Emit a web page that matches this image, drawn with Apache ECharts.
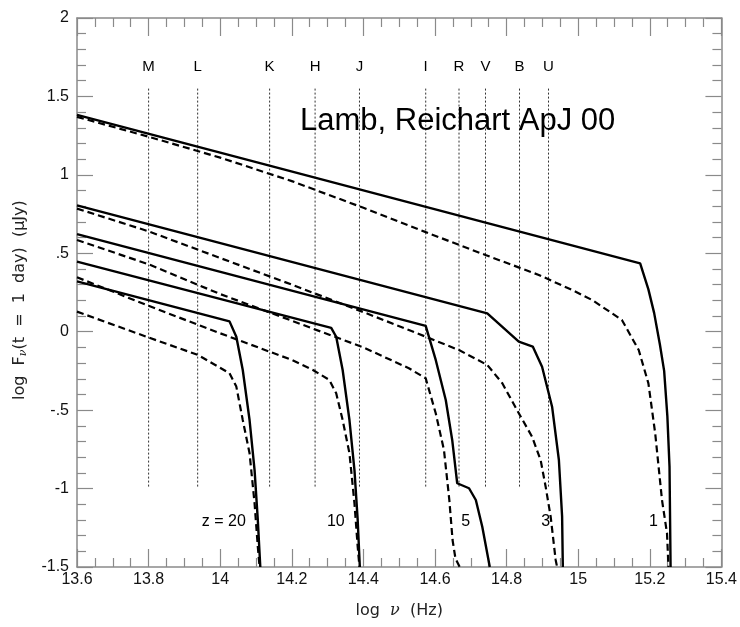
<!DOCTYPE html>
<html>
<head>
<meta charset="utf-8">
<script src="https://cdn.jsdelivr.net/npm/echarts@6/dist/echarts.min.js"></script>
<style>
  html, body { margin: 0; padding: 0; background: #fff; }
  #chart { width: 740px; height: 627px; }
</style>
</head>
<body>
<div id="chart"></div>
<script>
// spectra at t = 1 day, [log nu, log F]
const solidZ1 = [[13.6, 1.382], [15.173, 0.436], [15.196, 0.27], [15.212, 0.12], [15.228, -0.08], [15.24, -0.25], [15.249, -0.54], [15.255, -0.86], [15.258, -1.5]]
const dashedZ1 = [[13.6, 1.37], [13.8, 1.243], [14.0, 1.11], [14.2, 0.96], [14.4, 0.79], [14.574, 0.635], [14.741, 0.489], [14.89, 0.362], [14.983, 0.266], [15.039, 0.202], [15.122, 0.075], [15.169, -0.117], [15.196, -0.329], [15.215, -0.648], [15.234, -1.073], [15.248, -1.285], [15.252, -1.5]]
const solidZ3 = [[13.6, 0.805], [14.746, 0.117], [14.834, -0.063], [14.873, -0.095], [14.899, -0.223], [14.927, -0.478], [14.946, -0.818], [14.955, -1.179], [14.957, -1.5]]
const dashedZ3 = [[13.6, 0.785], [13.8, 0.64], [14.0, 0.47], [14.2, 0.3], [14.4, 0.125], [14.527, 0.011], [14.667, -0.117], [14.746, -0.212], [14.788, -0.329], [14.834, -0.52], [14.871, -0.669], [14.895, -0.818], [14.909, -0.988], [14.923, -1.179], [14.937, -1.455], [14.941, -1.5]]
const solidZ5 = [[13.6, 0.622], [14.574, 0.037], [14.602, -0.18], [14.63, -0.435], [14.648, -0.69], [14.662, -0.966], [14.695, -0.998], [14.714, -1.073], [14.732, -1.243], [14.753, -1.5]]
const dashedZ5 = [[13.6, 0.585], [13.8, 0.43], [14.0, 0.24], [14.2, 0.07], [14.4, -0.1], [14.527, -0.233], [14.574, -0.297], [14.602, -0.52], [14.625, -0.754], [14.64, -1.073], [14.649, -1.328], [14.657, -1.445], [14.669, -1.5]]
const solidZ10 = [[13.6, 0.447], [14.31, 0.025], [14.324, -0.032], [14.342, -0.244], [14.361, -0.563], [14.375, -0.882], [14.384, -1.2], [14.39, -1.5]]
const dashedZ10 = [[13.6, 0.347], [13.8, 0.165], [14.0, -0.01], [14.2, -0.18], [14.259, -0.244], [14.305, -0.308], [14.324, -0.393], [14.342, -0.563], [14.361, -0.775], [14.375, -1.094], [14.384, -1.37], [14.389, -1.5]]
const solidZ20 = [[13.6, 0.321], [14.026, 0.066], [14.045, -0.032], [14.063, -0.244], [14.082, -0.563], [14.096, -0.882], [14.105, -1.2], [14.112, -1.5]]
const dashedZ20 = [[13.6, 0.128], [13.794, -0.032], [13.938, -0.148], [14.026, -0.265], [14.045, -0.35], [14.063, -0.563], [14.082, -0.775], [14.096, -1.094], [14.105, -1.37], [14.11, -1.5]]

// photometric bands
const bandNames = ['M', 'L', 'K', 'H', 'J', 'I', 'R', 'V', 'B', 'U']
const bandX = [13.8, 13.937, 14.138, 14.265, 14.389, 14.574, 14.667, 14.741, 14.836, 14.917]
const bandTop = 1.55
const bandBottom = -1.0
const bandLabelY = 1.69

// redshift labels
const zLabels = ['z = 20', '10', '5', '3', '1']
const zLabelX = [14.01, 14.323, 14.686, 14.909, 15.21]
const zLabelY = -1.213

const yTicks = [-1.5, -1, -0.5, 0, 0.5, 1, 1.5, 2]
const yTickLabels = ['-1.5', '-1', '-.5', '0', '.5', '1', '1.5', '2']

const FONT = 'Liberation Sans, Arial, Helvetica, sans-serif'
const WIDE = 'DejaVu Sans, Verdana, sans-serif'
const AXIS_GRAY = '#8a8a8a'

const chart = echarts.init(document.getElementById('chart'))

function curve(data, dashed) {
  return {
    type: 'line',
    data: data,
    showSymbol: false,
    symbol: 'none',
    silent: true,
    lineStyle: {
      color: '#000',
      width: dashed ? 2.2 : 2.4,
      type: dashed ? [7, 4] : 'solid'
    },
    z: 3
  }
}

function textLayer(xs, y, names, size) {
  return {
    type: 'scatter',
    data: xs.map((x, i) => ({ value: [x, y], name: names[i] })),
    symbolSize: 2,
    itemStyle: { color: 'transparent' },
    silent: true,
    label: {
      show: true,
      position: 'inside',
      formatter: p => p.name,
      color: '#000',
      opacity: 1,
      textBorderWidth: 0,
      fontSize: size,
      fontFamily: FONT
    },
    z: 4
  }
}

const series = []
bandX.forEach(x => {
  series.push({
    type: 'line',
    data: [[x, bandTop], [x, bandBottom]],
    symbol: 'none',
    silent: true,
    lineStyle: { color: '#333', width: 1, type: [2, 2] },
    z: 1
  })
})
;[solidZ1, solidZ3, solidZ5, solidZ10, solidZ20].forEach(d => series.push(curve(d, false)))
;[dashedZ1, dashedZ3, dashedZ5, dashedZ10, dashedZ20].forEach(d => series.push(curve(d, true)))
series.push(textLayer(bandX, bandLabelY, bandNames, 15))
series.push(textLayer(zLabelX, zLabelY, zLabels, 16))

function xAxisCfg(pos, labels) {
  return {
    type: 'value',
    position: pos,
    min: 13.6,
    max: 15.4,
    interval: 0.2,
    axisLine: { show: true, onZero: false, lineStyle: { color: AXIS_GRAY, width: 1.5 } },
    axisTick: { show: true, inside: true, length: 18, lineStyle: { color: AXIS_GRAY, width: 1.2 } },
    minorTick: { show: true, splitNumber: 4, length: 9, lineStyle: { color: AXIS_GRAY, width: 1.2 } },
    splitLine: { show: false },
    axisLabel: { show: labels, color: '#111', fontSize: 16, fontFamily: FONT, margin: 5 },
    name: labels ? 'log  {i|ν}  (Hz)' : '',
    nameLocation: 'middle',
    nameGap: 36,
    nameTextStyle: {
      color: '#222', fontSize: 16, fontFamily: WIDE,
      rich: { i: { fontStyle: 'italic', fontSize: 16, fontFamily: 'DejaVu Serif, serif', color: '#222' } }
    }
  }
}

function yAxisCfg(pos, labels) {
  return {
    type: 'value',
    position: pos,
    min: -1.5,
    max: 2,
    interval: 0.5,
    axisLine: { show: true, onZero: false, lineStyle: { color: AXIS_GRAY, width: 1.5 } },
    axisTick: { show: true, inside: true, length: 16, lineStyle: { color: AXIS_GRAY, width: 1.2 } },
    minorTick: { show: true, splitNumber: 5, length: 9, lineStyle: { color: AXIS_GRAY, width: 1.2 } },
    splitLine: { show: false },
    axisLabel: {
      show: labels, color: '#111', fontSize: 16, fontFamily: FONT, margin: 8,
      formatter: v => {
        const i = yTicks.findIndex(t => Math.abs(t - v) < 1e-6)
        return i >= 0 ? yTickLabels[i] : ''
      }
    },
    name: labels ? 'log  F{s|ν}(t  =  1  day)  (μJy)   ' : '',
    nameLocation: 'middle',
    nameRotate: 90,
    nameGap: 48,
    nameTextStyle: {
      color: '#222', fontSize: 16, fontFamily: WIDE,
      rich: { s: { fontSize: 11, fontFamily: 'DejaVu Serif, serif', fontStyle: 'italic', color: '#222', padding: [8, 0, 0, 0] } }
    }
  }
}

const option = {
  animation: false,
  backgroundColor: '#fff',
  title: {
    text: 'Lamb, Reichart ApJ 00',
    left: 295,
    top: 101,
    textStyle: { fontSize: 31, fontWeight: 'normal', color: '#000', fontFamily: FONT }
  },
  grid: { left: 77, right: 17, top: 18, bottom: 60 },
  xAxis: [xAxisCfg('bottom', true), xAxisCfg('top', false)],
  yAxis: [yAxisCfg('left', true), yAxisCfg('right', false)],
  series: series
}

chart.setOption(option)
</script>
</body>
</html>
